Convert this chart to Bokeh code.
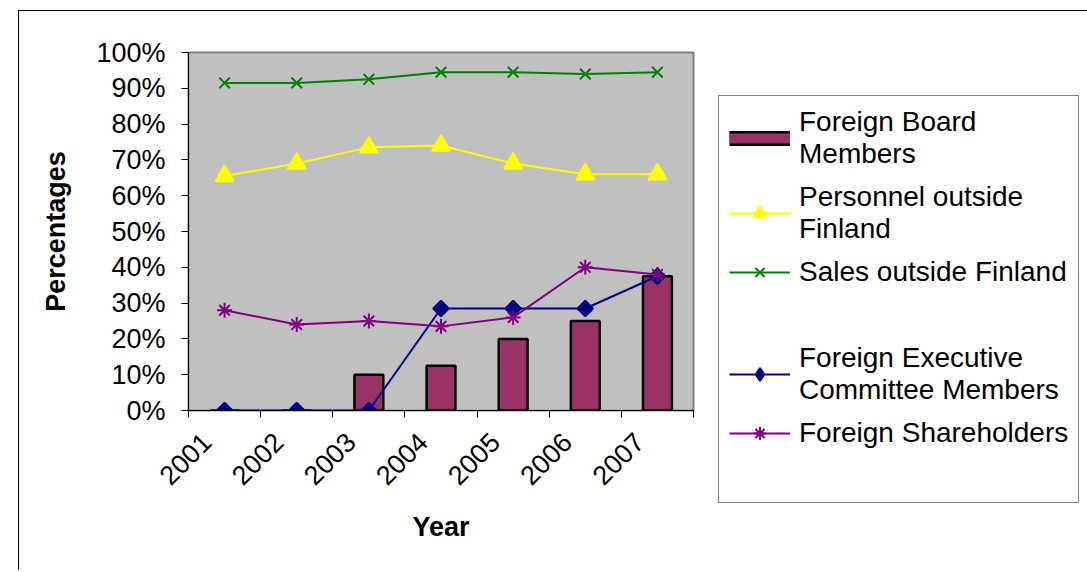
import numpy as np
from bokeh.plotting import figure
from bokeh.models import Range1d, FixedTicker, NumeralTickFormatter, Legend, LegendItem
from bokeh.embed import file_html
from bokeh.resources import INLINE

years = ["2001", "2002", "2003", "2004", "2005", "2006", "2007"]
board_members = [0.0, 0.0, 0.10, 0.125, 0.20, 0.25, 0.375]
personnel_outside = [0.655, 0.69, 0.735, 0.74, 0.69, 0.66, 0.66]
sales_outside = [0.915, 0.915, 0.925, 0.945, 0.945, 0.94, 0.945]
exec_committee = [0.0, 0.0, 0.0, 0.285, 0.285, 0.285, 0.375]
shareholders = [0.28, 0.24, 0.25, 0.235, 0.26, 0.40, 0.38]

FONT = "Liberation Sans"
x = np.arange(len(years)) + 0.5
label_pos = [float(v) - 0.25 for v in x]

p = figure(frame_width=505, frame_height=358, output_backend="svg", toolbar_location=None,
           x_range=Range1d(0, len(years)), y_range=Range1d(0, 1),
           min_border_left=169, min_border_top=41, min_border_right=0, min_border_bottom=160)
p.margin = (10, 0, 0, 18)
p.styles = {"border-left": "1px solid black", "border-top": "1px solid black"}
p.background_fill_color = "#C0C0C0"
p.border_fill_color = "white"
p.outline_line_color = "#808080"
p.outline_line_width = 2
p.grid.visible = False

# axes
p.xaxis.ticker = FixedTicker(ticks=label_pos, minor_ticks=list(range(len(years) + 1)))
p.xaxis.major_label_overrides = {v: y for v, y in zip(label_pos, years)}
p.xaxis.minor_tick_in = 0
p.xaxis.minor_tick_out = 7
p.xaxis.minor_tick_line_color = "black"
p.xaxis.minor_tick_line_width = 1
p.xaxis.major_label_orientation = np.pi / 4
p.xaxis.major_label_standoff = 20
p.xaxis.axis_label = "Year"
p.xaxis.axis_label_standoff = 16

p.yaxis.ticker = FixedTicker(ticks=[i / 10 for i in range(11)])
p.yaxis.formatter = NumeralTickFormatter(format="0%")
p.yaxis.major_tick_in = 0
p.yaxis.major_tick_out = 7
p.yaxis.minor_tick_line_color = None
p.yaxis.major_label_standoff = 16
p.yaxis.axis_label = "Percentages"
p.yaxis.axis_label_standoff = 22

for ax in (p.xaxis, p.yaxis):
    ax.axis_line_color = "black"
    ax.axis_line_width = 1
    ax.major_label_text_font = FONT
    ax.major_label_text_font_size = "27px"
    ax.major_label_text_color = "black"
    ax.axis_label_text_font = FONT
    ax.axis_label_text_font_size = "27px"
    ax.axis_label_text_font_style = "bold"
    ax.axis_label_text_color = "black"
p.xaxis.major_tick_line_color = None
p.yaxis.major_tick_line_color = "black"

# bars
BAR_FILL = "#993366"
bars = p.vbar(x=x, top=board_members, width=0.4, fill_color=BAR_FILL,
              line_color="black", line_width=2.5)

def series(vals, color, marker, size, angle=0.0):
    ln = p.line(x, vals, line_color=color, line_width=2)
    sc = p.scatter(x, vals, marker=marker, size=size, angle=angle, fill_color=color,
                   line_color=color, line_width=2)
    return [ln, sc]

r_pers = series(personnel_outside, "#FFFF00", "triangle", 18)
r_sales = series(sales_outside, "#008000", "x", 15)
r_exec = series(exec_committee, "#000080", "square", 11, angle=np.pi / 4)
r_share = series(shareholders, "#800080", "asterisk", 15)

# legend-only keys (a single undefined point, so nothing is drawn in the plot)
NA = [np.nan]
X0 = [float(x[0])]
bar_key_edge = p.line(X0, NA, line_color="black", line_width=15, line_cap="butt")
bar_key_fill = p.line(X0, NA, line_color=BAR_FILL, line_width=10, line_cap="butt")
exec_key = p.scatter(X0, NA, marker="diamond", fill_color="#000080", line_color="#000080",
                     line_width=2)
blank1 = p.scatter(X0, NA, size=0, alpha=0)
blank2 = p.scatter(X0, NA, size=0, alpha=0)

legend = Legend(items=[
    LegendItem(label="Foreign Board\nMembers", renderers=[bar_key_edge, bar_key_fill]),
    LegendItem(label="Personnel outside\nFinland", renderers=r_pers),
    LegendItem(label="Sales outside Finland", renderers=r_sales),
    LegendItem(label=" ", renderers=[blank1]),
    LegendItem(label="Foreign Executive\nCommittee Members", renderers=[r_exec[0], exec_key]),
    LegendItem(label="Foreign Shareholders", renderers=r_share),
    LegendItem(label=" ", renderers=[blank2]),
], location=(25, -93))
legend.label_text_font = FONT
legend.label_text_font_size = "28px"
legend.label_text_color = "black"
legend.label_text_line_height = 1.14
legend.label_standoff = 9
legend.glyph_width = 61
legend.glyph_height = 32
legend.spacing = 11
legend.padding = 10
legend.margin = 0
legend.border_line_color = "black"
legend.border_line_width = 1
legend.background_fill_color = "white"
legend.background_fill_alpha = 1
p.add_layout(legend, "right")

open("out.html", "w").write(file_html(p, INLINE))
